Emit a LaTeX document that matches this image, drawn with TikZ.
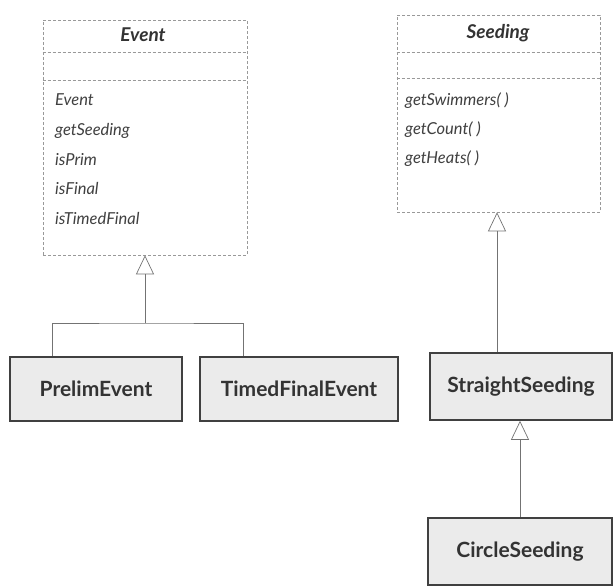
\documentclass[tikz,border=0pt]{standalone}
\usepackage{fontspec}
\setmainfont{Lato}
\usetikzlibrary{arrows.meta}
\tikzset{>=latex}
\tikzset{
  umlbox/.style={draw=black!40, dashed, dash pattern=on 3pt off 2pt, line width=0.6pt, fill=white},
  umlline/.style={draw=black!40, dashed, dash pattern=on 3pt off 2pt, line width=0.6pt},
  classbox/.style={draw=black!75, line width=1.6pt, fill=black!8, font=\fontsize{21}{24}\selectfont\bfseries, text=black!80},
  umltitle/.style={font=\fontsize{19}{22}\selectfont\bfseries\itshape, text=black!80},
  umlitem/.style={anchor=base west, inner sep=0pt, font=\fontsize{16.5}{19}\selectfont\itshape, text=black!75},
  inherit/.style={draw=black!55, line width=0.7pt, -{Triangle[open, length=19pt, width=18pt]}},
  link/.style={draw=black!55, line width=0.7pt}
}

\begin{document}
\begin{tikzpicture}[x=1pt, y=-1pt]
\useasboundingbox (0,0) rectangle (613,586);

% abstract classes
\node[umlbox, minimum width=204pt, minimum height=235pt] (event) at (145,137.5) {};
\node[umltitle] (eventtitle) at (143,35) {Event};
\draw[umlline] (event.west |- 0,52) -- (event.east |- 0,52);
\draw[umlline] (event.west |- 0,80) -- (event.east |- 0,80);
\node[umlitem] (ev1) at (55,106) {Event};
\node[umlitem] (ev2) at (55,135.5) {getSeeding};
\node[umlitem] (ev3) at (55,165) {isPrim};
\node[umlitem] (ev4) at (55,194.5) {isFinal};
\node[umlitem] (ev5) at (55,224) {isTimedFinal};

\node[umlbox, minimum width=203pt, minimum height=197pt] (seeding) at (498.5,113.5) {};
\node[umltitle] (seedingtitle) at (498,33) {Seeding};
\draw[umlline] (seeding.west |- 0,52) -- (seeding.east |- 0,52);
\draw[umlline] (seeding.west |- 0,78) -- (seeding.east |- 0,78);
\node[umlitem] (se1) at (405,106) {getSwimmers( )};
\node[umlitem] (se2) at (405,134.5) {getCount( )};
\node[umlitem] (se3) at (405,163) {getHeats( )};

% concrete classes
\node[classbox, minimum width=172pt, minimum height=64pt] (prelim) at (96,389) {PrelimEvent};
\node[classbox, minimum width=198pt, minimum height=64pt, inner sep=2pt] (timed) at (299,389) {TimedFinalEvent};
\node[classbox, minimum width=182pt, minimum height=67pt] (straight) at (521,386.5) {StraightSeeding};
\node[classbox, minimum width=184pt, minimum height=67pt] (circle) at (520,551.5) {CircleSeeding};

% inheritance
\coordinate (bus) at (145,323);
\draw[link] ([xshift=-44pt]prelim.north) |- (bus) -| ([xshift=-56pt]timed.north);
\draw[inherit] (bus) -- (bus |- event.south);
\draw[inherit] (straight.north -| 497,0) -- (497,0 |- seeding.south);
\draw[inherit] (circle.north) -- (circle.north |- straight.south);

\end{tikzpicture}
\end{document}
